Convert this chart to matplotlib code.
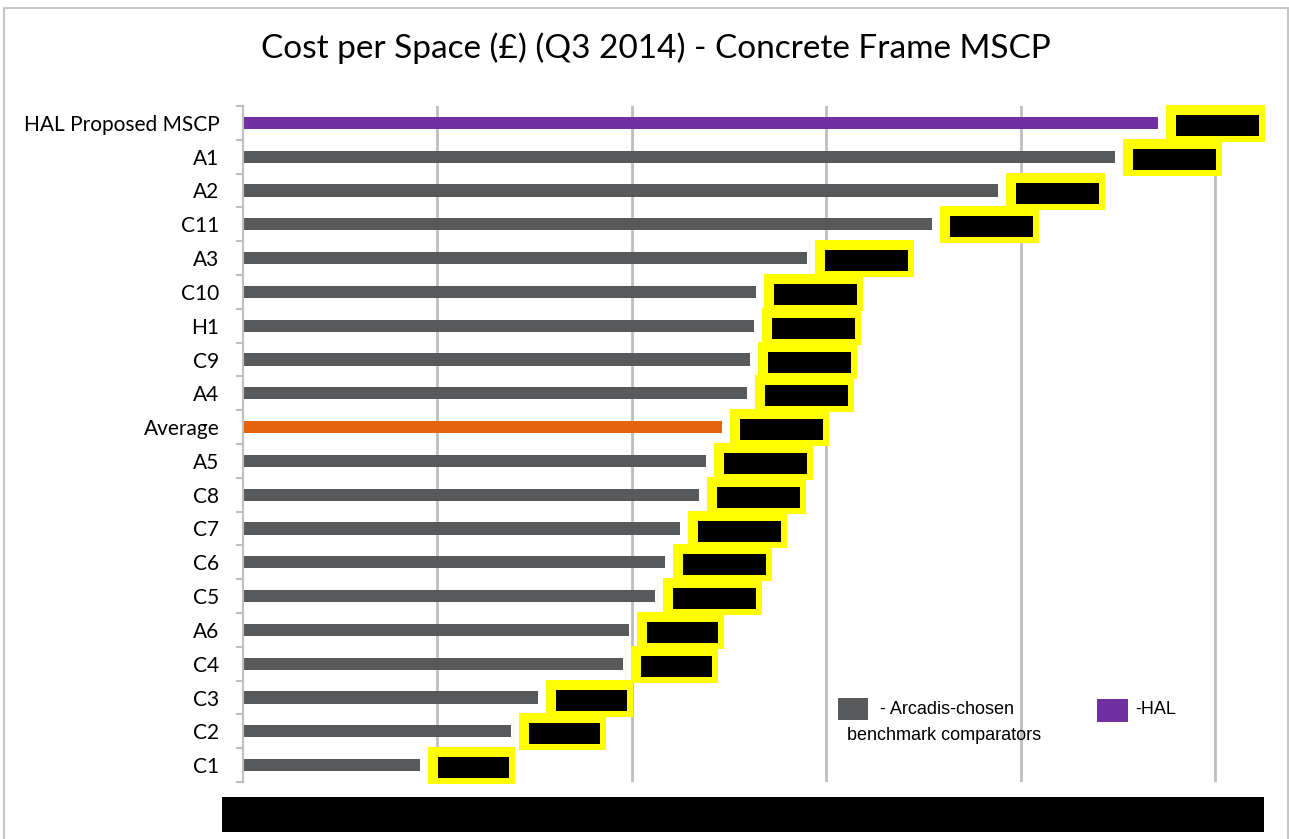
import matplotlib
matplotlib.use("Agg")
import matplotlib.pyplot as plt
from matplotlib.patches import Rectangle
import numpy as np

# Cost per parking space (GBP), top row first
labels = ["HAL Proposed MSCP", "A1", "A2", "C11", "A3", "C10", "H1", "C9", "A4",
          "Average", "A5", "C8", "C7", "C6", "C5", "A6", "C4", "C3", "C2", "C1"]
costs = [23520, 22420, 19410, 17710, 14500, 13190, 13140, 13030, 12960,
         12310, 11900, 11720, 11230, 10850, 10590, 9920, 9770, 7580, 6890, 4550]
grid_ticks = [5000, 10000, 15000, 20000, 25000]

GREY = "#58595b"
PURPLE = "#7030a0"
ORANGE = "#e4630f"
colors = [PURPLE if l.startswith("HAL") else ORANGE if l == "Average" else GREY
          for l in labels]

W, H = 1289, 839
fig = plt.figure(figsize=(W / 100, H / 100), dpi=100)
ax = fig.add_axes([243 / W, 1 - 782 / H, (1264 - 243) / W, (782 - 106) / H])

n = len(labels)
y = np.arange(n)
ax.barh(y, costs, height=0.36, color=colors, zorder=2)
ax.set_ylim(n - 0.5, -0.5)
ax.set_xlim(0, 26250)

# value labels blanked out; box width follows the number of digits
px = 26250 / (1264 - 243)          # data units per pixel along x
row = 1 / ((782 - 106) / n)        # rows per pixel along y
for yi, v in zip(y, costs):
    inner = 83 if v >= 10000 else 71
    ax.add_patch(Rectangle((v + 8 * px, yi - 18 * row), (inner + 16) * px, 37 * row,
                           facecolor="#ffff00", edgecolor="none", zorder=3, clip_on=False))
    ax.add_patch(Rectangle((v + 18 * px, yi - 8 * row), inner * px, 21 * row,
                           facecolor="black", edgecolor="none", zorder=4, clip_on=False))

ax.set_xticks(grid_ticks)
ax.set_xticklabels([])
ax.tick_params(axis="x", length=0)
ax.grid(axis="x", color="#bdbdbd", linewidth=2, zorder=0)

ax.set_yticks(y)
ax.set_yticklabels(labels, fontsize=15, fontfamily="Lato")
ax.set_yticks(np.arange(n + 1) - 0.5, minor=True)
ax.tick_params(axis="y", which="major", length=0, pad=17)
ax.tick_params(axis="y", which="minor", length=5, width=1.5, color="#bfbfbf")

for side in ["top", "right", "bottom"]:
    ax.spines[side].set_visible(False)
ax.spines["left"].set_color("#bfbfbf")
ax.spines["left"].set_linewidth(1.5)

fig.text(656 / W, 1 - 48 / H, "Cost per Space (£) (Q3 2014) - Concrete Frame MSCP",
         ha="center", va="center", fontsize=24, fontfamily="Lato")

# legend drawn by hand
fig.add_artist(Rectangle((838 / W, 1 - 720 / H), 30 / W, 22 / H, transform=fig.transFigure,
                         facecolor=GREY, edgecolor="none"))
fig.text(880 / W, 1 - 709 / H, "- Arcadis-chosen", ha="left", va="center",
         fontsize=13, fontfamily="Liberation Sans")
fig.text(847 / W, 1 - 736 / H, "benchmark comparators", ha="left", va="center",
         fontsize=13, fontfamily="Liberation Sans")
fig.add_artist(Rectangle((1097 / W, 1 - 722 / H), 31 / W, 23 / H, transform=fig.transFigure,
                         facecolor=PURPLE, edgecolor="none"))
fig.text(1135 / W, 1 - 709 / H, "-HAL", ha="left", va="center",
         fontsize=13, fontfamily="Liberation Sans")

# axis values blanked out
fig.add_artist(Rectangle((222 / W, 1 - 832 / H), (1264 - 222) / W, 35 / H,
                         transform=fig.transFigure, facecolor="black", edgecolor="none"))

# outer chart border
fig.add_artist(Rectangle((4 / W, -0.1), (1288 - 4) / W, 0.1 + (839 - 8) / H,
                         transform=fig.transFigure, fill=False, edgecolor="#c6c6c6",
                         linewidth=1.5, clip_on=False))

fig.savefig("out.png", dpi=100)
